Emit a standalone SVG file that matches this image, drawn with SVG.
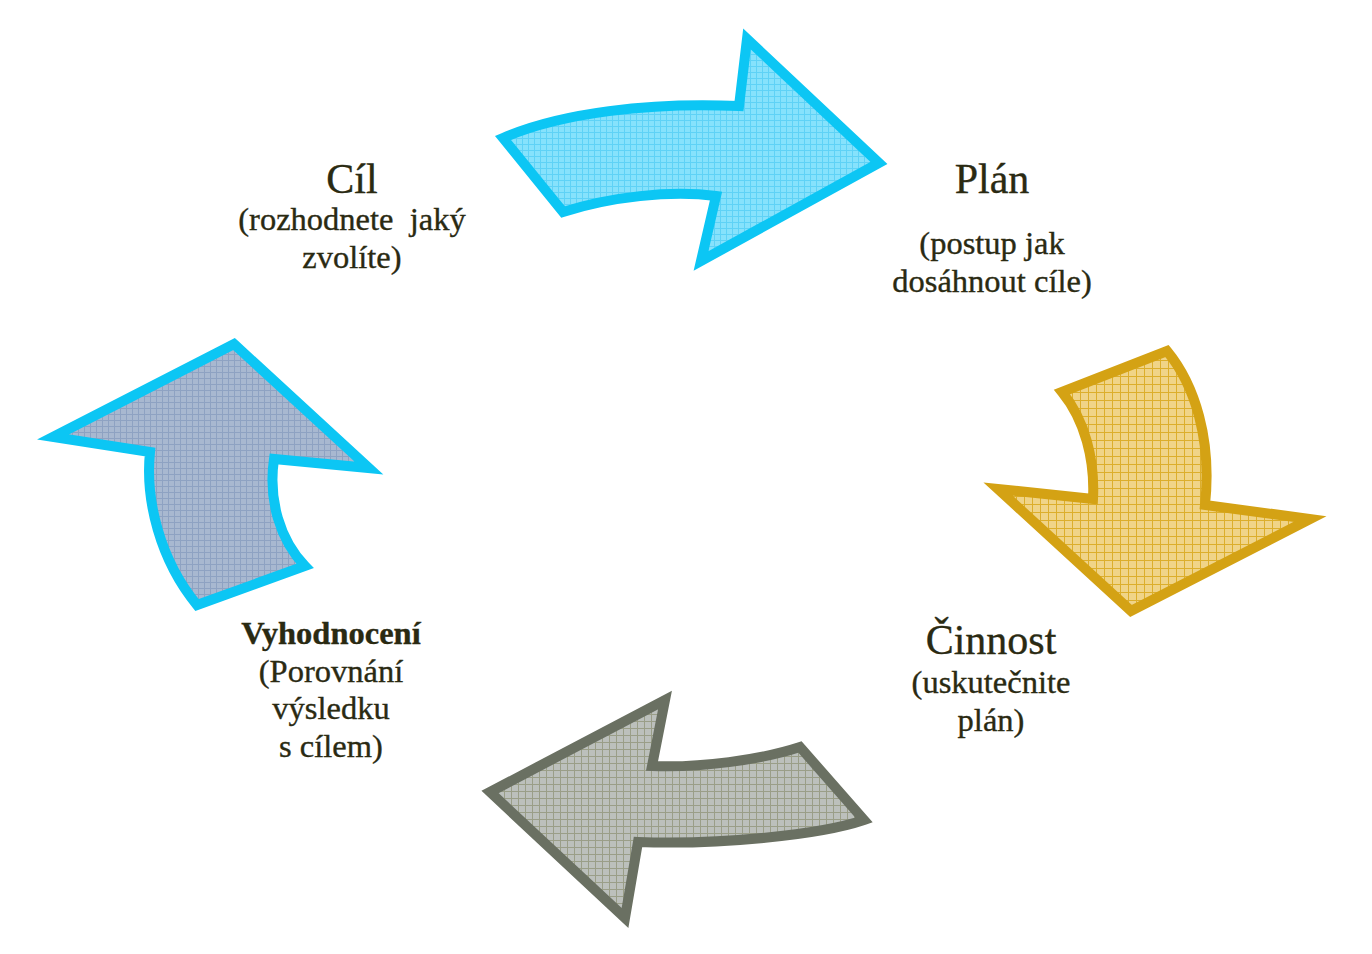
<svg xmlns="http://www.w3.org/2000/svg" width="1372" height="954" viewBox="0 0 1372 954">
<style>
.t{font-family:"Liberation Serif","Times New Roman",serif;fill:#2a2a12;stroke:#2a2a12;stroke-width:0.35;text-anchor:middle}
.big{font-size:42px}
.sm{font-size:32.5px}
.b{font-weight:bold}
.arr{stroke-width:10;stroke-linejoin:miter;stroke-miterlimit:10}
</style>
<defs>
<pattern id="gCyan" width="6" height="6" patternUnits="userSpaceOnUse"><rect width="6" height="6" fill="#86e2fc"/><path d="M0 0.5H6M0.5 0V6" stroke="#5fd2f6" stroke-width="1"/></pattern>
<pattern id="gBlue" width="6" height="6" patternUnits="userSpaceOnUse"><rect width="6" height="6" fill="#a8b8d0"/><path d="M0 0.5H6M0.5 0V6" stroke="#8ea2c2" stroke-width="1"/></pattern>
<pattern id="gGold" width="8" height="8" patternUnits="userSpaceOnUse"><rect width="8" height="8" fill="#f0d488"/><path d="M0 0.5H8M0.5 0V8" stroke="#dcae2c" stroke-width="1"/></pattern>
<pattern id="gGray" width="7" height="7" patternUnits="userSpaceOnUse"><rect width="7" height="7" fill="#bcc0bc"/><path d="M0 0.5H7M0.5 0V7" stroke="#9a9e88" stroke-width="1"/></pattern>
</defs>
<rect width="1372" height="954" fill="#ffffff"/>
<g id="connectors">
<path id="arrow-top" class="arr" fill="url(#gCyan)" stroke="#0cc6f4" d="M503 138 C560 113 650 102 739 106 L747 39 L879 163 L701 261 L716 196 C670 190 610 197 563 212 Z"/>
<path id="arrow-right" class="arr" fill="url(#gGold)" stroke="#d4a214" d="M1062 392 L1167 351 C1195 385 1212 440 1205 505 L1310 519 L1131 611 L998 489 L1093 499 C1095 460 1085 420 1062 392 Z"/>
<path id="arrow-bottom" class="arr" fill="url(#gGray)" stroke="#6a7062" d="M490 792 L665 700 L652 766 C700 768 760 760 800 747 L864 820 C820 835 720 845 638 842 L625 918 Z"/>
<path id="arrow-left" class="arr" fill="url(#gBlue)" stroke="#0cc6f4" d="M234 344 L369 468 L274 459 C268 500 280 540 305 566 L197 605 C160 560 145 500 150 452 L53 437 Z"/>
</g>
<g id="node-cil">
<text class="t big" x="352" y="193">Cíl</text>
<text class="t sm" x="352" y="230" xml:space="preserve">(rozhodnete  jaký</text>
<text class="t sm" x="352" y="268">zvolíte)</text>
</g>
<g id="node-plan">
<text class="t big" x="992" y="193">Plán</text>
<text class="t sm" x="992" y="254">(postup jak</text>
<text class="t sm" x="992" y="292">dosáhnout cíle)</text>
</g>
<g id="node-cinnost">
<text class="t big" x="991" y="654">Činnost</text>
<text class="t sm" x="991" y="693">(uskutečnite</text>
<text class="t sm" x="991" y="731">plán)</text>
</g>
<g id="node-vyhodnoceni">
<text class="t sm b" x="331" y="644">Vyhodnocení</text>
<text class="t sm" x="331" y="682">(Porovnání</text>
<text class="t sm" x="331" y="719">výsledku</text>
<text class="t sm" x="331" y="757">s cílem)</text>
</g>
</svg>
